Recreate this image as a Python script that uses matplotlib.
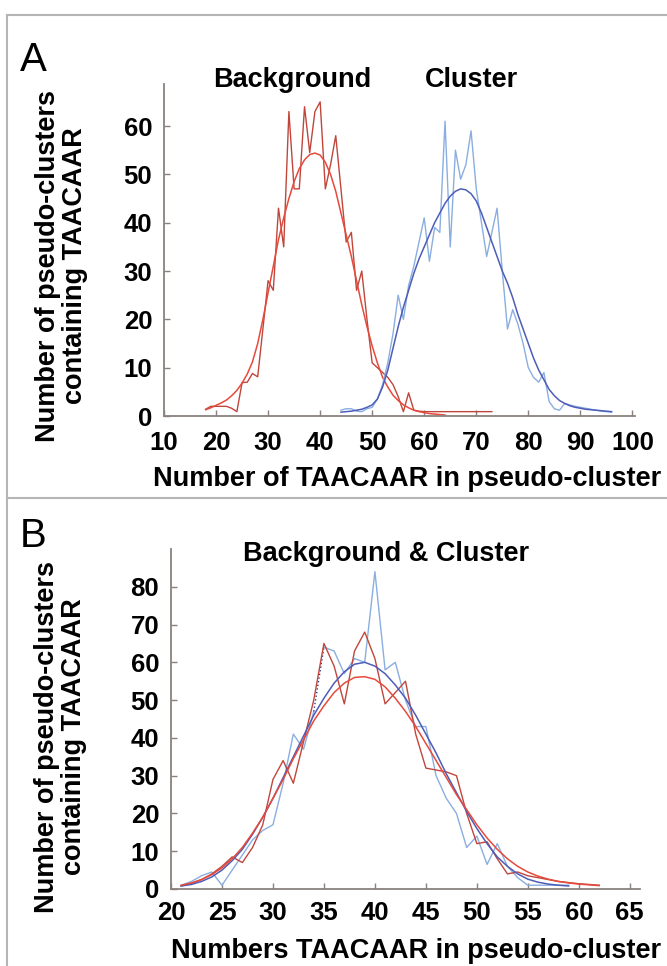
import matplotlib
matplotlib.use('Agg')
import matplotlib.pyplot as plt
from matplotlib.lines import Line2D

plt.rcParams['font.family'] = ['Liberation Sans', 'DejaVu Sans']

# ---------------- Panel A data ----------------
bg_x = list(range(18, 74))
bg_raw = [1.4, 2, 2, 2, 2, 1.6, 0.9, 6.9, 7, 8.8, 8.1, 18, 28, 26, 43, 35, 63, 47, 47, 64,
          54.5, 63, 65, 47, 52, 58, 47, 36, 38, 26, 30, 20, 11, 10, 9, 8, 6.5, 4, 0.9, 4.8,
          1.2, 1, 0.9, 0.9, 0.9, 0.9, 0.9, 0.9, 0.9, 0.9, 0.9, 0.9, 0.9, 0.9, 0.9, 0.9]
bg_fit_x = list(range(18, 65))
bg_fit = [1.3, 1.7, 2.2, 2.7, 3.3, 4.2, 5.3, 6.8, 8.7, 11.2, 15, 20, 25.5, 31, 36.5, 41, 45,
          48.5, 51.2, 53, 54.1, 54.4, 54, 52.5, 50, 46.5, 42, 37.5, 33, 28, 23, 18.5, 14.5,
          11, 8, 6, 4.3, 3.2, 2.3, 1.7, 1.2, 0.9, 0.7, 0.5, 0.4, 0.3, 0.2]
cl_x = list(range(44, 97))
cl_raw = [1.2, 1.5, 1.5, 1.0, 0.9, 1.5, 1.8, 3.5, 6.5, 11, 17, 25, 20, 27, 31, 36, 41, 32, 39,
          38, 61, 35, 55, 49, 52, 59, 47, 40, 33, 38, 43, 30, 18, 22, 19, 15, 10, 8, 7, 9, 3,
          1.5, 1.2, 2.6, 2.3, 2, 1.8, 1.6, 1.4, 1.2, 1.0, 0.9, 0.8]
cl_fit = [0.8, 0.9, 1.0, 1.2, 1.4, 1.8, 2.3, 3.5, 6, 9.5, 14, 18.5, 22.5, 26, 29.5, 32.5, 35,
          37.5, 40, 42, 44, 45.5, 46.5, 47, 46.8, 46, 44.5, 42, 39, 36, 33, 30, 27.5, 24.5, 21,
          18, 15, 12, 9.5, 7.5, 5.5, 4.2, 3.2, 2.6, 2.1, 1.8, 1.6, 1.4, 1.3, 1.2, 1.1, 1.0, 0.9]

xticks_a = list(range(10, 101, 10))
yticks_a = list(range(0, 61, 10))

# ---------------- Panel B data ----------------
b_bg_x = list(range(21, 63))
b_bg_raw = [0.8, 1.5, 2.5, 4, 6, 8.5, 7, 11, 17, 29, 34, 28, 39, 50, 65, 59, 49, 63, 68, 61,
            49, 52, 55, 41, 32, 31.5, 31, 30, 20, 12, 12.5, 8, 4, 4.5, 3.5, 3, 2.5, 2, 1.7,
            1.4, 1.2, 1]
b_bg_fit = [1, 1.6, 2.5, 3.8, 5.6, 8, 11, 14.8, 19, 24, 29, 34.5, 39.5, 44.5, 48.5, 52, 54.5,
            56, 56.2, 55.5, 53.5, 50.5, 47, 43, 38.5, 34, 29.5, 25, 21, 17, 13.5, 10.5, 8, 6,
            4.5, 3.4, 2.6, 2, 1.6, 1.3, 1.1, 0.9]
b_cl_x = list(range(21, 60))
b_cl_raw = [1, 2, 3.5, 4.5, 1, 5, 9, 13, 15.5, 17, 28, 41, 37, 47, 64, 63, 57, 61, 60, 84, 58,
            60, 50, 43, 43, 30, 24, 20, 11, 14, 6.5, 12, 6, 3, 1, 1, 1, 1, 1]
b_cl_fit = [0.8, 1.2, 2, 3.2, 5, 7.5, 10.5, 14.5, 19, 24, 29.5, 35, 40.5, 46, 50.5, 54.5, 57.5,
            59.5, 60, 59, 57, 54, 50.5, 46, 41, 36, 30.5, 25.5, 20.5, 16, 12, 8.5, 6, 4, 2.6,
            1.8, 1.3, 1.0, 0.8]

xticks_b = list(range(20, 66, 5))
yticks_b = list(range(0, 81, 10))

# ---------------- style ----------------
FS = 19.5
TFS = 18.5
spine_c = '#8a817d'
red_raw = '#c0463b'
red_fit = '#e64a3c'
blue_raw = '#8aaee0'
blue_fit = '#4d5db8'

W, H = 667, 966
fig = plt.figure(figsize=(6.67, 9.66), dpi=100)


def fx(px):
    return px / W


def fy(py):
    return 1 - py / H


def style(ax, xlim, ylim, xt, yt, xpad):
    ax.set_xlim(*xlim)
    ax.set_ylim(*ylim)
    ax.set_xticks(xt)
    ax.set_yticks(yt)
    for s in ['top', 'right']:
        ax.spines[s].set_visible(False)
    for s in ['left', 'bottom']:
        ax.spines[s].set_color(spine_c)
        ax.spines[s].set_linewidth(1.3)
    ax.tick_params(direction='in', length=4, width=1, color=spine_c, labelsize=TFS)
    ax.tick_params(axis='y', pad=8.5)
    ax.tick_params(axis='x', pad=xpad)
    for lab in ax.get_xticklabels() + ax.get_yticklabels():
        lab.set_fontweight('bold')


# Panel A
axA = fig.add_axes([fx(164), fy(416), fx(635 - 164), (416 - 84) / H])
axA.plot(bg_x, bg_raw, color=red_raw, lw=1.0)
axA.plot(bg_fit_x, bg_fit, color=red_fit, lw=1.1)
axA.plot(cl_x, cl_raw, color=blue_raw, lw=1.0)
axA.plot(cl_x, cl_fit, color=blue_fit, lw=1.1)
style(axA, (10, 100.5), (0, 68.7), xticks_a, yticks_a, 11)

# Panel B
axB = fig.add_axes([fx(171), fy(889), fx(640 - 171), (889 - 549) / H])
i34 = b_cl_x.index(34)
axB.plot(b_cl_x[:i34 + 1], b_cl_raw[:i34 + 1], color=blue_raw, lw=1.0)
axB.plot(b_cl_x[i34 + 1:], b_cl_raw[i34 + 1:], color=blue_raw, lw=1.0)
axB.plot(b_cl_x[i34:i34 + 2], b_cl_raw[i34:i34 + 2], color='#2f3d8a', lw=1.0, ls=':')
axB.plot(b_bg_x, b_bg_raw, color=red_raw, lw=1.0)
axB.plot(b_cl_x, b_cl_fit, color=blue_fit, lw=1.1)
axB.plot(b_bg_x, b_bg_fit, color=red_fit, lw=1.1)
style(axB, (20, 66), (0, 90), xticks_b, yticks_b, 9)

# X labels
fig.text(fx(407.5), fy(486), 'Number of TAACAAR in pseudo-cluster', ha='center',
         va='baseline', fontsize=FS, fontweight='bold')
fig.text(fx(416), fy(958), 'Numbers TAACAAR in pseudo-cluster', ha='center',
         va='baseline', fontsize=FS, fontweight='bold')

# Y labels
fig.text(fx(62), fy(266), 'Number of pseudo-clusters\ncontaining TAACAAR', rotation=90,
         ha='center', va='center', fontsize=FS, fontweight='bold', linespacing=1.05)
fig.text(fx(61), fy(737), 'Number of pseudo-clusters\ncontaining TAACAAR', rotation=90,
         ha='center', va='center', fontsize=FS, fontweight='bold', linespacing=1.05)

# Titles
fig.text(fx(292), fy(87), 'Background', ha='center', va='baseline',
         fontsize=FS, fontweight='bold')
fig.text(fx(471), fy(87), 'Cluster', ha='center', va='baseline',
         fontsize=FS, fontweight='bold')
fig.text(fx(386), fy(561), 'Background & Cluster', ha='center', va='baseline',
         fontsize=FS, fontweight='bold')

# Panel letters
fig.text(fx(33), fy(71), 'A', ha='center', va='baseline', fontsize=29)
fig.text(fx(33), fy(547), 'B', ha='center', va='baseline', fontsize=29)

# Frame lines
fc = '#b5b5b5'
fig.add_artist(Line2D([fx(7), fx(7)], [0, fy(15)], color=fc, lw=1.5,
                      transform=fig.transFigure))
fig.add_artist(Line2D([fx(7), 1], [fy(15), fy(15)], color=fc, lw=1.5,
                      transform=fig.transFigure))
fig.add_artist(Line2D([fx(7), 1], [fy(498), fy(498)], color=fc, lw=1.5,
                      transform=fig.transFigure))

fig.savefig('out.png', dpi=100)
